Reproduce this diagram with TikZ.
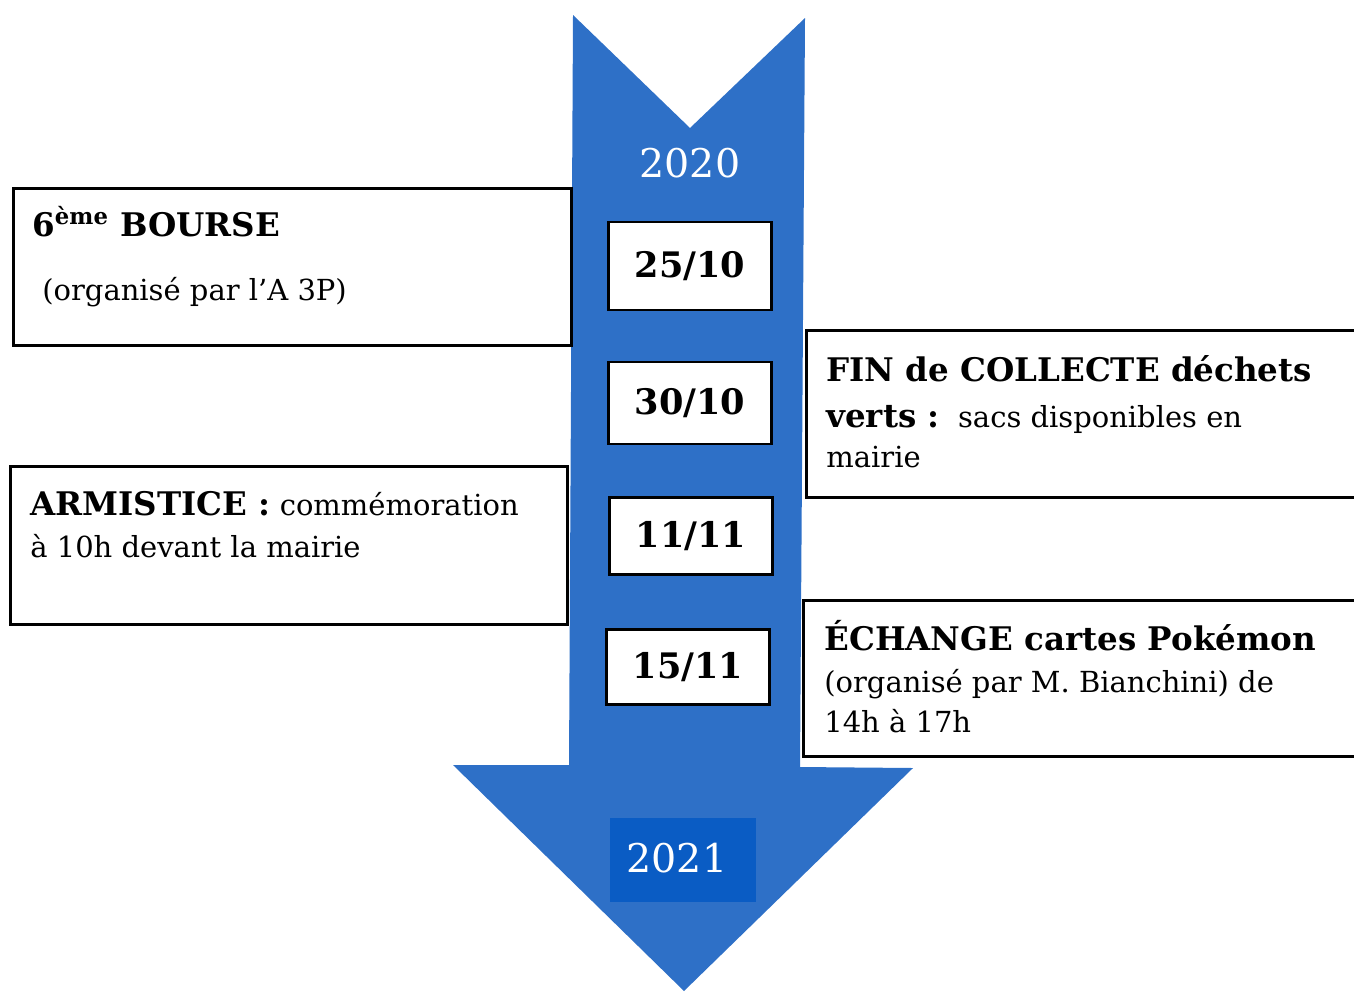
\documentclass[tikz,border=0pt]{standalone}
\usepackage{fontspec}
\setmainfont{DejaVu Serif}
\usetikzlibrary{positioning}
\definecolor{arrowblue}{RGB}{46,112,199}
\definecolor{yearblue}{RGB}{10,92,196}
\newcommand{\evtfont}{\fontsize{16.5}{20}\selectfont}
\newcommand{\ttlfont}{\fontsize{18.5}{22}\selectfont\bfseries}
\tikzset{%
    datebox/.style={draw, fill=white, line width=1.5pt, minimum width=3.26cm,
        font=\fontsize{20}{24}\selectfont\bfseries},
    eventbox/.style={draw, fill=white, line width=1.5pt, anchor=north west},
    evtline/.style={anchor=base west, inner sep=0pt, font=\evtfont},
    yearlabel/.style={text=white, font=\fontsize{22.5}{27}\selectfont}
}

\begin{document}
\begin{tikzpicture}[x=0.02cm,y=-0.02cm]
\useasboundingbox (0,0) rectangle (1354,991);

% big arrow
\fill[arrowblue] (573,15) -- (690,128) -- (805,18) -- (800,767) -- (913,768)
    -- (684,991) -- (453,765) -- (569,765) -- cycle;
\node[yearlabel] (y2020) at (690,163) {2020};
\node[fill=yearblue, minimum width=2.94cm, minimum height=1.68cm] (y2021box) at (683,860) {};
\node[yearlabel] (y2021) at (677,858) {2021};

% dates
\node[datebox, minimum height=1.76cm] (d2510) at (690,266) {25/10};
\node[datebox, minimum height=1.64cm] (d3010) at (690,403) {30/10};
\node[datebox, minimum height=1.54cm] (d1111) at (691,536) {11/11};
\node[datebox, minimum height=1.5cm] (d1511) at (688,667) {15/11};

% left events
\node[eventbox, minimum width=11.16cm, minimum height=3.14cm] (bourse) at (12,187) {};
\node[evtline] (bourse1) at (32,236) {\ttlfont 6\textsuperscript{ème} BOURSE};
\node[evtline] (bourse2) at (42,300) {(organisé par l’A 3P)};

\node[eventbox, minimum width=11.14cm, minimum height=3.16cm] (armist) at (9,465) {};
\node[evtline] (armist1) at (30,515) {{\ttlfont ARMISTICE :} commémoration};
\node[evtline] (armist2) at (30,557) {à 10h devant la mairie};

% right events
\node[eventbox, minimum width=11.3cm, minimum height=3.34cm] (collecte) at (805,329) {};
\node[evtline] (collecte1) at (826,381) {\ttlfont FIN de COLLECTE déchets};
\node[evtline] (collecte2) at (826,427) {{\ttlfont verts :}\ \ sacs disponibles en};
\node[evtline] (collecte3) at (826,467) {mairie};

\node[eventbox, minimum width=11.36cm, minimum height=3.12cm] (echange) at (802,599) {};
\node[evtline] (echange1) at (824,650) {\ttlfont ÉCHANGE cartes Pokémon};
\node[evtline] (echange2) at (824,692) {(organisé par M. Bianchini) de};
\node[evtline] (echange3) at (824,732) {14h à 17h};
\end{tikzpicture}
\end{document}
